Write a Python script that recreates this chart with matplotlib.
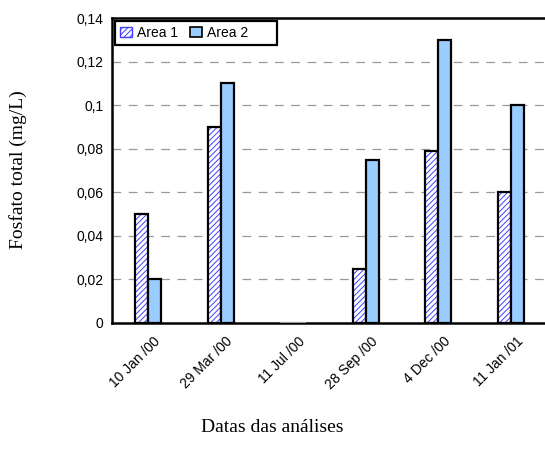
import matplotlib.pyplot as plt
import matplotlib.transforms as mtransforms
import numpy as np

datas = ['10 Jan /00', '29 Mar /00', '11 Jul /00', '28 Sep /00', '4 Dec /00', '11 Jan /01']
area1 = [0.05, 0.09, 0.0, 0.025, 0.079, 0.06]
area2 = [0.02, 0.11, 0.0, 0.075, 0.13, 0.10]
yticks = [0, 0.02, 0.04, 0.06, 0.08, 0.1, 0.12, 0.14]
ylabels = ['0', '0,02', '0,04', '0,06', '0,08', '0,1', '0,12', '0,14']

plt.rcParams['hatch.linewidth'] = 0.7

fig = plt.figure(figsize=(5.45, 4.61), dpi=100)
ax = fig.add_axes([112 / 545, 1 - 323 / 461, 435 / 545, 305 / 461])

x = np.arange(len(datas))
w = 0.18
# hatched fill first, black outline on top
ax.bar(x - w / 2, area1, w, color='white', edgecolor='#4040ff', hatch='//////', linewidth=0, zorder=2)
b1 = ax.bar(x - w / 2, area1, w, fill=False, edgecolor='black', linewidth=1.6, zorder=3)
b2 = ax.bar(x + w / 2, area2, w, color='#99ccff', edgecolor='black', linewidth=1.6, zorder=3)
for i in range(len(datas)):
    if area1[i] == 0 and area2[i] == 0:
        b1[i].set_edgecolor('#999999')
        b2[i].set_edgecolor('#999999')

ax.set_xlim(-0.5, len(datas) - 0.5)
ax.set_ylim(0, 0.14)
ax.set_yticks(yticks)
ax.set_yticklabels(ylabels, fontfamily='Liberation Sans', fontsize=10)
ax.set_xticks(x)
ax.set_xticklabels(datas, rotation=45, ha='right', va='top', rotation_mode='anchor',
                   fontfamily='Liberation Sans', fontsize=10)
ax.tick_params(length=0)
ax.tick_params(axis='y', pad=6)
ax.tick_params(axis='x', pad=8)
shift = mtransforms.ScaledTranslation(5 / 100, 0, fig.dpi_scale_trans)
for lab in ax.get_xticklabels():
    lab.set_transform(lab.get_transform() + shift)
for t in yticks[1:-1]:
    ax.axhline(t, color='#999999', linestyle=(0, (7, 6)), linewidth=0.9, zorder=1)
ax.spines['right'].set_visible(False)
for s in ['left', 'top', 'bottom']:
    ax.spines[s].set_linewidth(1.8)

fig.text(18 / 545, 1 - 170 / 461, 'Fosfato total (mg/L)', fontfamily='Liberation Serif',
         fontsize=14, rotation=90, ha='center', va='center')
fig.text(0.5, 1 - 427 / 461, 'Datas das análises', fontfamily='Liberation Serif',
         fontsize=14, ha='center', va='center')

h1 = plt.Rectangle((0, 0), 1, 1, facecolor='white', edgecolor='#4040ff', hatch='//////')
h2 = plt.Rectangle((0, 0), 1, 1, facecolor='#99ccff', edgecolor='black', linewidth=1.2)
leg = ax.legend([h1, h2], ['Area 1', 'Area 2      '], loc='upper left', ncol=2,
                fancybox=False, framealpha=1, prop={'family': 'Liberation Sans', 'size': 10},
                bbox_to_anchor=(3 / 435, 1 - 3 / 305), borderaxespad=0,
                handlelength=0.86, handleheight=0.65, columnspacing=0.9, handletextpad=0.36,
                borderpad=0.35)
leg.get_frame().set_edgecolor('black')
leg.get_frame().set_linewidth(1.6)

fig.savefig('out.png', dpi=100)
